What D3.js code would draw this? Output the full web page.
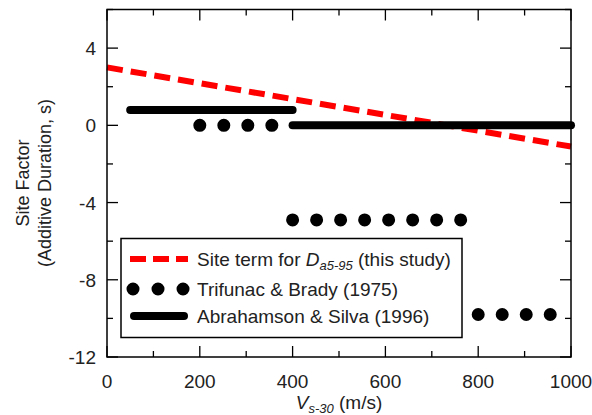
<!DOCTYPE html>
<html>
<head>
<meta charset="utf-8">
<script src="https://cdn.jsdelivr.net/npm/d3@7"></script>
<style>
  html, body { margin: 0; padding: 0; background: #fff; }
  svg { display: block; font-family: "Liberation Sans", Arial, sans-serif; }
</style>
</head>
<body>
<svg id="chart" width="592" height="415"></svg>
<script>
// Axis ranges and tick labels
const xDomain = [0, 1000];
const yDomain = [-12, 6];
const xTickLabels = [0, 200, 400, 600, 800, 1000];
const yTickLabels = [4, 0, -4, -8, -12];

// Site term for Da5-95 (this study): linear in Vs30
const siteTermV = [0, 1000];
const siteTermY = [3.0, -1.1];

// Trifunac & Brady (1975): step segments
const tbStart = [200, 400, 800];
const tbEnd   = [400, 800, 1000];
const tbValue = [0, -4.9, -9.8];

// Abrahamson & Silva (1996): step segments
const asStart = [50, 400];
const asEnd   = [400, 1000];
const asValue = [0.8, 0];

const legendLabels = ["Site term for ", "Trifunac & Brady (1975)", "Abrahamson & Silva (1996)"];

const FS = 19;
const svg = d3.select("#chart");
const L = 107, R = 571, T = 9.5, B = 357;

const x = d3.scaleLinear().domain(xDomain).range([L, R]);
const y = d3.scaleLinear().domain(yDomain).range([B, T]);

const plot = svg.append("g");

// Site term line (red dashed)
plot.append("path")
  .datum(siteTermV.map((v, i) => [v, siteTermY[i]]))
  .attr("d", d3.line().x(d => x(d[0])).y(d => y(d[1])))
  .attr("fill", "none")
  .attr("stroke", "#f00")
  .attr("stroke-width", 6)
  .attr("stroke-dasharray", "16,8");

// Abrahamson & Silva (solid thick)
asStart.forEach((s, i) => {
  plot.append("line")
    .attr("x1", x(s)).attr("x2", x(asEnd[i]))
    .attr("y1", y(asValue[i])).attr("y2", y(asValue[i]))
    .attr("stroke", "#000")
    .attr("stroke-width", 8)
    .attr("stroke-linecap", "round");
});

// Trifunac & Brady (round dots)
tbStart.forEach((s, i) => {
  plot.append("line")
    .attr("x1", x(s)).attr("x2", x(tbEnd[i]) - 4)
    .attr("y1", y(tbValue[i])).attr("y2", y(tbValue[i]))
    .attr("stroke", "#000")
    .attr("stroke-width", 13)
    .attr("stroke-linecap", "round")
    .attr("stroke-dasharray", "0.01,24");
});

// Frame
svg.append("rect")
  .attr("x", L).attr("y", T)
  .attr("width", R - L).attr("height", B - T)
  .attr("fill", "none").attr("stroke", "#000").attr("stroke-width", 1.5);

// Inward ticks on all four sides
const xMinor = d3.range(xDomain[0], xDomain[1] + 1, 100);
const yMinor = d3.range(yDomain[0], yDomain[1] + 0.01, 2);
const tickG = svg.append("g").attr("stroke", "#000").attr("stroke-width", 1.3);
xMinor.forEach(v => {
  const len = v % 200 === 0 ? 11 : 6;
  tickG.append("line").attr("x1", x(v)).attr("x2", x(v)).attr("y1", B).attr("y2", B - len);
  tickG.append("line").attr("x1", x(v)).attr("x2", x(v)).attr("y1", T).attr("y2", T + len);
});
yMinor.forEach(v => {
  const len = v % 4 === 0 ? 11 : 6;
  tickG.append("line").attr("y1", y(v)).attr("y2", y(v)).attr("x1", L).attr("x2", L + len);
  tickG.append("line").attr("y1", y(v)).attr("y2", y(v)).attr("x1", R).attr("x2", R - len);
});

// Tick labels
svg.append("g").selectAll("text").data(xTickLabels).join("text")
  .attr("x", d => x(d)).attr("y", 388)
  .attr("text-anchor", "middle")
  .attr("font-size", FS)
  .attr("fill", "#222")
  .text(d => d);

svg.append("g").selectAll("text").data(yTickLabels).join("text")
  .attr("x", 96).attr("y", d => y(d) + 7)
  .attr("text-anchor", "end")
  .attr("font-size", FS)
  .attr("fill", "#222")
  .text(d => d);

// X axis title
const xt = svg.append("text")
  .attr("x", 339).attr("y", 409)
  .attr("text-anchor", "middle")
  .attr("font-size", FS)
  .attr("fill", "#222");
xt.append("tspan").attr("font-style", "italic").text("V");
xt.append("tspan").attr("font-style", "italic").attr("font-size", 13).attr("dy", 4).text("s-30");
xt.append("tspan").attr("dy", -4).text(" (m/s)");

// Y axis title
const yt = svg.append("text")
  .attr("transform", "translate(29,183) rotate(-90)")
  .attr("text-anchor", "middle")
  .attr("font-size", 18)
  .attr("fill", "#222");
yt.append("tspan").attr("x", 0).attr("dy", 0).text("Site Factor");
yt.append("tspan").attr("x", 0).attr("dy", 22).text("(Additive Duration, s)");

// Legend
const lg = svg.append("g");
lg.append("rect")
  .attr("x", 121).attr("y", 238.5)
  .attr("width", 341).attr("height", 99)
  .attr("fill", "#fff").attr("stroke", "#000").attr("stroke-width", 1.5);

const rowY = [259, 289, 316];
lg.append("line").attr("x1", 130).attr("x2", 188).attr("y1", rowY[0]).attr("y2", rowY[0])
  .attr("stroke", "#f00").attr("stroke-width", 6).attr("stroke-dasharray", "16,7");
lg.append("line").attr("x1", 133).attr("x2", 185).attr("y1", rowY[1]).attr("y2", rowY[1])
  .attr("stroke", "#000").attr("stroke-width", 13).attr("stroke-linecap", "round")
  .attr("stroke-dasharray", "0.01,25");
lg.append("line").attr("x1", 134).attr("x2", 184).attr("y1", rowY[2]).attr("y2", rowY[2])
  .attr("stroke", "#000").attr("stroke-width", 8).attr("stroke-linecap", "round");

const t0 = lg.append("text").attr("x", 197).attr("y", rowY[0] + 7).attr("font-size", FS).attr("fill", "#222");
t0.append("tspan").text(legendLabels[0]);
t0.append("tspan").attr("font-style", "italic").text("D");
t0.append("tspan").attr("font-style", "italic").attr("font-size", 13).attr("dy", 4).text("a5-95");
t0.append("tspan").attr("dy", -4).text(" (this study)");

lg.append("text").attr("x", 197).attr("y", rowY[1] + 7).attr("font-size", FS).attr("fill", "#222").text(legendLabels[1]);
lg.append("text").attr("x", 197).attr("y", rowY[2] + 7).attr("font-size", FS).attr("fill", "#222").text(legendLabels[2]);
</script>
</body>
</html>
